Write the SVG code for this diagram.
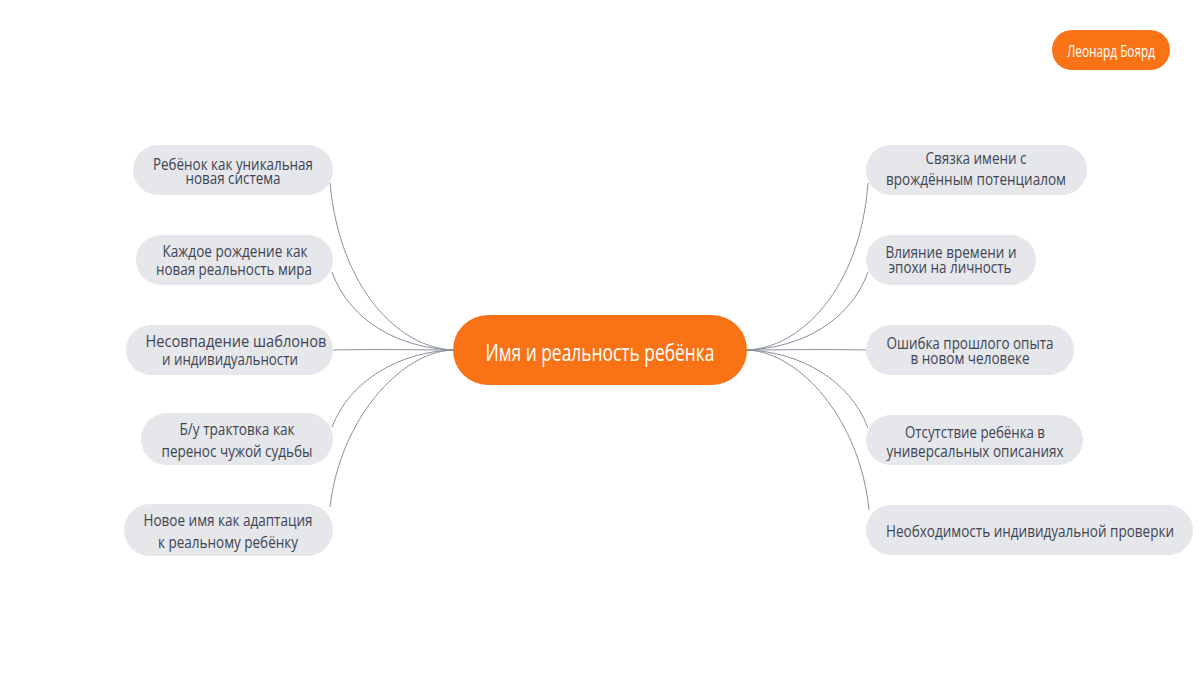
<svg xmlns="http://www.w3.org/2000/svg" width="1200" height="700" viewBox="0 0 1200 700">
<style>
.bg{fill:#ffffff}
.main{fill:#f97316}
.sub{fill:#e5e7eb}
.t{font-family:"Open Sans","Liberation Sans",sans-serif;font-size:17px;fill:#3f4554;text-anchor:middle}
.tw{font-family:"Open Sans","Liberation Sans",sans-serif;fill:#ffffff;text-anchor:middle}
.c{fill:none;stroke:#8b90a0;stroke-width:1}
</style>
<rect class="bg" x="0" y="0" width="1200" height="700"/>
<g id="connectors">
<path class="c" d="M453,350 C400,348 340,290 330,183"/>
<path class="c" d="M453,350 C400,348 350,322 332,272"/>
<path class="c" d="M453,350 C420,350 380,349 333,350"/>
<path class="c" d="M453,350 C400,352 350,380 332,427"/>
<path class="c" d="M453,350 C400,352 340,420 330,507"/>
<path class="c" d="M747,350 C800,348 860,290 868,183"/>
<path class="c" d="M747,350 C800,348 850,322 868,272"/>
<path class="c" d="M747,350 C780,350 820,349 866,350"/>
<path class="c" d="M747,350 C800,352 850,380 868,428"/>
<path class="c" d="M747,350 C800,352 860,420 869,510"/>
</g>
<g id="center">
<rect class="main" x="453" y="315" width="294" height="70" rx="35"/>
<text class="tw" x="600" y="361" font-size="24" textLength="229" lengthAdjust="spacingAndGlyphs">Имя и реальность ребёнка</text>
</g>
<g id="author">
<rect class="main" x="1052" y="30" width="118" height="40" rx="20"/>
<text class="tw" x="1111" y="57" font-size="17" textLength="88" lengthAdjust="spacingAndGlyphs">Леонард Боярд</text>
</g>
<g id="l1">
<rect class="sub" x="133" y="145" width="200" height="50" rx="25"/>
<text class="t" x="233" y="170" textLength="160" lengthAdjust="spacingAndGlyphs">Ребёнок как уникальная</text>
<text class="t" x="233" y="184" textLength="95" lengthAdjust="spacingAndGlyphs">новая система</text>
</g>
<g id="l2">
<rect class="sub" x="136" y="235" width="197" height="50" rx="25"/>
<text class="t" x="235" y="257" textLength="145" lengthAdjust="spacingAndGlyphs">Каждое рождение как</text>
<text class="t" x="234" y="275" textLength="156" lengthAdjust="spacingAndGlyphs">новая реальность мира</text>
</g>
<g id="l3">
<rect class="sub" x="126" y="325" width="207" height="50" rx="25"/>
<text class="t" x="236" y="347" textLength="181" lengthAdjust="spacingAndGlyphs">Несовпадение шаблонов</text>
<text class="t" x="230" y="365" textLength="136" lengthAdjust="spacingAndGlyphs">и индивидуальности</text>
</g>
<g id="l4">
<rect class="sub" x="141" y="413" width="192" height="52" rx="26"/>
<text class="t" x="237" y="435" textLength="115" lengthAdjust="spacingAndGlyphs">Б/у трактовка как</text>
<text class="t" x="237" y="457" textLength="151" lengthAdjust="spacingAndGlyphs">перенос чужой судьбы</text>
</g>
<g id="l5">
<rect class="sub" x="124" y="504" width="209" height="52" rx="26"/>
<text class="t" x="228" y="526" textLength="169" lengthAdjust="spacingAndGlyphs">Новое имя как адаптация</text>
<text class="t" x="228" y="548" textLength="140" lengthAdjust="spacingAndGlyphs">к реальному ребёнку</text>
</g>
<g id="r1">
<rect class="sub" x="866" y="145" width="221" height="50" rx="25"/>
<text class="t" x="976" y="164" textLength="101" lengthAdjust="spacingAndGlyphs">Связка имени с</text>
<text class="t" x="976" y="185" textLength="180" lengthAdjust="spacingAndGlyphs">врождённым потенциалом</text>
</g>
<g id="r2">
<rect class="sub" x="866" y="235" width="170" height="50" rx="25"/>
<text class="t" x="951" y="258" textLength="131" lengthAdjust="spacingAndGlyphs">Влияние времени и</text>
<text class="t" x="950" y="273" textLength="123" lengthAdjust="spacingAndGlyphs">эпохи на личность</text>
</g>
<g id="r3">
<rect class="sub" x="866" y="325" width="208" height="50" rx="25"/>
<text class="t" x="970" y="349" textLength="167" lengthAdjust="spacingAndGlyphs">Ошибка прошлого опыта</text>
<text class="t" x="970" y="364" textLength="119" lengthAdjust="spacingAndGlyphs">в новом человеке</text>
</g>
<g id="r4">
<rect class="sub" x="866" y="415" width="217" height="50" rx="25"/>
<text class="t" x="975" y="438" textLength="140" lengthAdjust="spacingAndGlyphs">Отсутствие ребёнка в</text>
<text class="t" x="975" y="457" textLength="177" lengthAdjust="spacingAndGlyphs">универсальных описаниях</text>
</g>
<g id="r5">
<rect class="sub" x="866" y="505" width="327" height="50" rx="25"/>
<text class="t" x="1030" y="537" textLength="288" lengthAdjust="spacingAndGlyphs">Необходимость индивидуальной проверки</text>
</g>
</svg>
